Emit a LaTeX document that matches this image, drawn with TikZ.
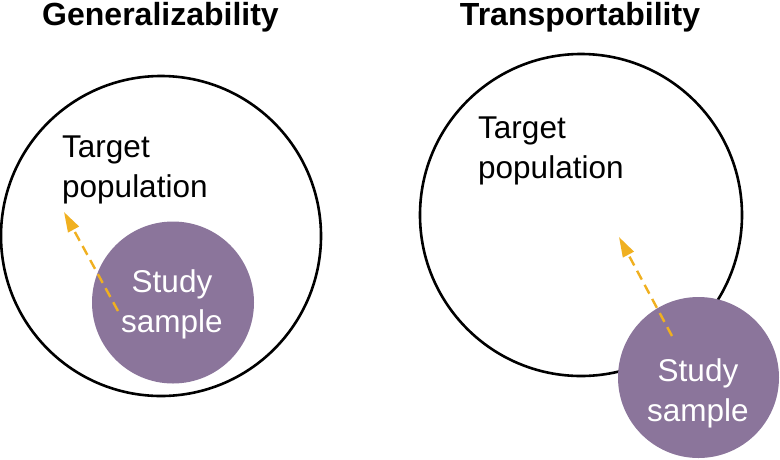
\documentclass[tikz,border=0pt]{standalone}
\usepackage{fontspec}
\setmainfont{Liberation Sans}
\usetikzlibrary{arrows.meta}
\definecolor{samplepurple}{RGB}{139,117,155}
\definecolor{arroworange}{RGB}{240,176,32}
\begin{document}
\begin{tikzpicture}[x=1pt,y=-1pt,
  popcircle/.style={circle,draw=black,line width=2.6pt,inner sep=0pt},
  samplecircle/.style={circle,fill=samplepurple,inner sep=0pt},
  titletext/.style={font=\fontsize{32}{38}\selectfont\bfseries,inner sep=0pt,anchor=base},
  bodytext/.style={font=\fontsize{31.5}{40}\selectfont,inner sep=0pt,align=left},
  sampletext/.style={font=\fontsize{31.5}{40}\selectfont,inner sep=0pt,align=center,text=white},
  movearrow/.style={draw=arroworange,line width=2.4pt,dash pattern=on 10pt off 6pt,
    -{Triangle[length=20pt,width=12pt]}}
]
\useasboundingbox (0,0) rectangle (780,459);
% titles
\node[titletext] (t1) at (160.5,25) {Generalizability};
\node[titletext] (t2) at (580,25) {Transportability};
% left panel
\node[popcircle,minimum size=320pt] (pop1) at (161,236) {};
\node[samplecircle,minimum size=162pt] (s1) at (173,302.5) {};
\node[bodytext,anchor=base west] (tp1) at (62,197) {Target\\population};
\node[sampletext,anchor=base] (st1) at (172,332) {Study\\sample};
\coordinate (a1s) at (118,311);
\coordinate (a1e) at (64,212);
\draw[movearrow] (a1s) -- (a1e);
% right panel
\node[popcircle,minimum size=322pt] (pop2) at (581,215) {};
\node[samplecircle,minimum size=161pt] (s2) at (698.5,377.5) {};
\node[bodytext,anchor=base west] (tp2) at (478,178) {Target\\population};
\node[sampletext,anchor=base] (st2) at (698,421) {Study\\sample};
\coordinate (a2s) at (672,336);
\coordinate (a2e) at (619,237);
\draw[movearrow] (a2s) -- (a2e);
\end{tikzpicture}
\end{document}
